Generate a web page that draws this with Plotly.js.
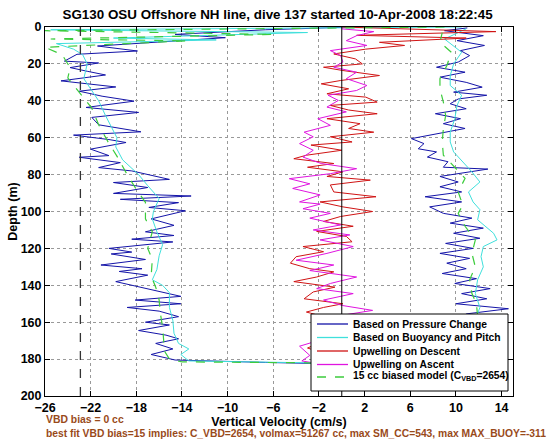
<!DOCTYPE html>
<html>
<head>
<meta charset="utf-8">
<script src="https://cdn.plot.ly/plotly-3.0.1.min.js"></script>
<style>html,body{margin:0;padding:0;background:#fff;}#chart{width:560px;height:442px;}</style>
</head>
<body>
<div id="chart"></div>
<script>
// ---- Data (depth in m, velocity in cm/s) ----
// Based on Pressure Change (descent then ascent)
const pcDepth = [0,1.5,4,5.8,10.3,13,14.8,18.5,19.5,22,24,26,29.2,32.5,34.8,37.5,40.2,43.6,46.3,49,53,56.8,58.6,61,62.6,66.2,69.7,70.6,73.5,76.2,78,82.6,84.3,87,90.2,91.6,93.4,95.2,97.8,99.6,104,107.5,111,113,115,116.5,120,122,123,126,129,131,132.5,134.5,138,140,142.5,146,148,150,152,154,157,160,161.5,164.5,167,169,171.5,174.5,177.5,179,180.5,181.8,182.3,
  182.5,181.5,178,174,170,166,162,158,155.5,152.7,150,147.3,144.5,141.8,139,136.4,133.6,131,128,125.4,122.7,120,117.3,114.5,111.8,109,106.3,103.6,101,97.5,94.8,92,89.4,86.6,84,81,77,76,73,70.5,67.7,66,63.2,60.5,57.8,55,52.4,49.7,47,44.3,41.6,39,37,35.3,32.6,30,27.2,24.5,21.8,19,15.5,12.8,10,7.4,4.7,2,0.5];
const pcVel = [1,-6.7,-14.6,-10.2,-21.4,-17.9,-23.2,-24.3,-21.3,-23.8,-22.3,-20.7,-24.6,-19.8,-23,-21,-18.2,-22.4,-17.8,-21.9,-21.3,-17.6,-23.5,-20.4,-18.9,-22,-20.4,-23,-19.4,-21.3,-18.4,-15.1,-20,-17,-20,-13.2,-19.4,-14.3,-16.9,-13.7,-16.7,-14.7,-17.2,-14.7,-18.4,-14.8,-20.4,-18.4,-20.2,-17.2,-21.1,-17.5,-19.5,-17,-19.8,-18.4,-16.6,-14.1,-18.1,-14.1,-18.8,-16,-14.3,-17.2,-15.1,-17.8,-15.4,-14.3,-16.3,-14.8,-16.7,-15.7,-14.6,-6.7,-2.5,
  -1.5,11,12.5,10.5,12,10.8,12.5,11,10.9,14.6,10,12.7,10.5,13,9.9,11.8,8.8,10.9,9.2,11.2,8.6,11.5,9.1,12.1,9.8,12.4,9.5,11.4,8.9,7.7,10.5,7.3,10.5,8.6,10.2,8.6,12.8,8.9,9.3,7.5,8.3,6.7,7.2,6.1,8.3,10.8,8.9,10.4,8.2,10.9,9.5,10.2,12.7,9.8,12.3,10.9,8.6,10.8,8.3,10.2,11.2,10.4,12.5,10.1,12.4,9,11];

// Based on Buoyancy and Pitch
const bpDepth = [0,1.5,3,6,7,9,12,15,20,28,40,48,60,65,72,80,86,93,100,104,111,118,124,131.5,137,140,144,152,159,166,171.5,174.5,177.5,181,182,
  182.5,181.5,175,168,162,157,152,144.5,137,130,124.5,119,115.4,111.8,104.5,99,94.8,89.4,84,78.5,73,67.7,62.3,57,49.7,42.5,37,31.7,26.3,20,13.7,6.5,1];
const bpVel = [10.5,-25.5,-3,-20,-11,-25,-23.5,-22.7,-22.3,-22.6,-21.3,-20.7,-19.7,-19.8,-19.2,-17.8,-17,-16,-16.5,-16.6,-16.2,-15.7,-16,-16.2,-16.6,-15.7,-15.1,-15.1,-14.8,-14.7,-14.3,-13.4,-14.1,-13.4,-3,
  -1.5,12,12.3,11.9,12.2,11.8,12.1,11.7,11.9,12.4,12.2,12.4,13.6,13.3,11.9,12.1,11.5,11.1,12.1,11.4,10.6,9.8,9.5,9.5,9.9,10.1,10.5,9.5,9.5,9.8,10.5,9,10.9];

// Upwelling on Descent
const udDepth = [0,2.5,4.5,6,8.3,10,12,13.8,14.6,17.3,20,21.8,23.6,26.3,29,30.8,33.5,36.2,38,40.7,42.5,45,47,49.7,52.4,55,57,59.5,62.3,64,66.8,69.5,71.4,74,76,78.5,81,83,85.6,89.4,92,94.8,97.5,100,102.7,105.4,108,110.8,113.5,116.4,119,121.8,124.5,128,131,132.7,135.5,138,141,143.6,147.3,150,152,154.5,158,162,166,170,174,178,181];
const udVel = [0,13.5,1.3,10.9,3.3,5.5,2.1,0.4,-0.7,1.2,1.8,-1.6,0.1,3.3,-0.1,-1.8,0.6,-1.3,2.1,3.1,-1,0.6,3.1,-1.3,1.6,0.6,2.8,-1,0.9,-2.7,0,-3.1,-4.2,-0.7,-3,0.1,-1.3,2.5,-1,-0.7,3,-1.9,0.1,2.7,-0.1,-1.6,1,-2.2,0.4,0.9,-3.4,-1.6,-4,-4.5,-2.8,-0.7,-2.2,-4.2,-0.6,-2.5,-3.3,0.1,-1.6,-3.1,-1,-2.5,0.5,-1.5,-3,-1,-2];

// Upwelling on Ascent
const uaDepth = [182.5,181,178,173,168,163,159,156.4,153.6,151,148,144.5,141.8,139,135.5,132,129,126.4,122.7,119,115.4,112.7,110,107.3,103.6,101,98.5,96,94.8,91,87.5,85,82.2,79.5,76.8,74,70.5,66.8,63.2,59.5,57,53.3,49.7,46,43.4,39.8,37,34.4,31.7,28,24.5,21.8,19,15.5,12.8,10,7.4,4.7,2.5,1];
const uaVel = [-2,-3.5,-2.8,-3.7,-1,-2,0.5,-0.1,2.7,0.1,-1.6,1,-2.2,-1,1.3,-2.8,-0.7,-4,-1.3,1,-1.9,0.7,-2.5,-0.1,-2.8,-1,-3.4,-1.9,-3.7,-1.9,-4.3,-2.8,-4.6,-1,1.3,-1.8,-3.4,-2.5,-3.7,-2.5,-3.3,-1,-2.1,0.4,-1.3,-0.3,-1.2,1.3,2.2,0.4,1.3,-0.7,0.1,-0.1,-1,2.2,0.4,1.3,2.8,0];

// 15 cc biased model
const mdDepth = [0,2,4,6.5,7.5,11,15,22,27.6,34,44,53,62,70,80,88,95,104,111,120,126,135,141,148,155,162.5,170,175,180,181.5,182,
  182.5,182,170,157,150,144.5,137,130,122.7,115.4,108,101,96.6,89.4,82,75,69.5,62.3,55,48,40.7,33.5,28,21,13.7,8.3,3];
const mdVel = [9,-26,-6,-25.5,-13.5,-26,-24.5,-23.8,-24,-23.2,-21.9,-21.3,-20.5,-19.7,-18.8,-18,-17.2,-17.2,-16.6,-17,-16.6,-16.7,-16.3,-16,-15.9,-15.7,-15.6,-15.6,-15.1,-14,-3,
  -1.5,11.5,11.8,11.9,11.8,11.4,11.2,11.7,11.4,11.7,10.8,10.2,10.6,10.2,10.8,9.7,8.9,8.8,8.9,9.1,8.9,8.6,8.6,9.2,9.6,8.6,8.8];

// Reference lines and axis ticks
const zeroVel = 0;
const biasVel = -22.9;
const xTicks = [-26,-22,-18,-14,-10,-6,-2,2,6,10,14];
const yTicks = [0,20,40,60,80,100,120,140,160,180,200];

const seriesNames = ['Based on Pressure Change','Based on Buoyancy and Pitch','Upwelling on Descent','Upwelling on Ascent','15 cc biased model (C<sub>VBD</sub>=2654)'];
const seriesColors = ['#1414a8','#3fe0dc','#d01414','#e014e0','#3ccc3c'];
const seriesDash = ['solid','solid','solid','solid','dash'];
const seriesX = [pcVel, bpVel, udVel, uaVel, mdVel];
const seriesY = [pcDepth, bpDepth, udDepth, uaDepth, mdDepth];

const traces = seriesNames.map((n, i) => ({
  x: seriesX[i], y: seriesY[i], name: n, mode: 'lines', showlegend: false,
  line: {color: seriesColors[i], width: i === 4 ? 1.2 : 1, dash: seriesDash[i]}
}));

// ---- Geometry (pixels) ----
const W = 560, H = 442;
const M = {l:45, r:47, t:27, b:46};
const PW = W - M.l - M.r, PH = H - M.t - M.b;
const px2x = p => (p - M.l) / PW;           // pixel -> paper x
const py2y = p => (H - M.b - p) / PH;       // pixel -> paper y

const FONT = 'Liberation Sans, Arial, Helvetica, sans-serif';
const axisFont = {family:FONT, size:12.5, color:'#000', weight:'bold'};
const brown = '#994a1a';

// Legend box drawn as a framed panel inside the axes (like the original)
const lgBox = {x0:311, x1:508, y0:314, y1:391};
const lgRows = [324, 337.5, 351, 364.5, 377];
const lgLine = {x0:317, x1:348};
const lgTextX = 352;

const shapes = [
  {type:'line', xref:'x', yref:'paper', x0:zeroVel, x1:zeroVel, y0:0, y1:1, line:{color:'#000', width:1}, layer:'above'},
  {type:'line', xref:'x', yref:'paper', x0:biasVel, x1:biasVel, y0:0, y1:1, line:{color:'#333', width:1.3, dash:'dash'}, layer:'above'},
  {type:'rect', xref:'paper', yref:'paper', x0:px2x(lgBox.x0), x1:px2x(lgBox.x1), y0:py2y(lgBox.y1), y1:py2y(lgBox.y0),
   fillcolor:'#fff', line:{color:'#000', width:1}, layer:'above'}
];
const annotations = [];
seriesNames.forEach((n, i) => {
  const yy = py2y(lgRows[i]);
  shapes.push({type:'line', xref:'paper', yref:'paper', x0:px2x(lgLine.x0), x1:px2x(lgLine.x1), y0:yy, y1:yy,
               line:{color:seriesColors[i], width:i === 4 ? 1.5 : 1.3, dash:seriesDash[i]}, layer:'above'});
  annotations.push({text:n, xref:'paper', yref:'paper', x:px2x(lgTextX), y:py2y(lgRows[i] - (i === 4 ? 1 : 0)),
                    xanchor:'left', yanchor:'middle', showarrow:false, borderpad:0,
                    font:{family:FONT, size:10.3, weight:'bold', color:'#000'}});
});
annotations.push(
  {text:'VBD bias = 0 cc', xref:'paper', yref:'paper', x:0, y:py2y(420), xanchor:'left', yanchor:'middle', showarrow:false, borderpad:0,
   font:{family:FONT, size:10.4, weight:'bold', color:brown}},
  {text:'best fit VBD bias=15 implies: C_VBD=2654, volmax=51267 cc, max SM_CC=543, max MAX_BUOY=-311', xref:'paper', yref:'paper',
   x:0, y:py2y(433), xanchor:'left', yanchor:'middle', showarrow:false, borderpad:0,
   font:{family:FONT, size:10.3, weight:'bold', color:brown}}
);

const layout = {
  width:W, height:H, margin:M,
  paper_bgcolor:'#fff', plot_bgcolor:'#fff',
  font:{family:FONT, size:12, color:'#000'},
  showlegend:false,
  title:{text:'SG130 OSU Offshore NH line, dive 137 started 10-Apr-2008 18:22:45',
         font:{family:FONT, size:13.4, weight:'bold', color:'#000'},
         x:0.497, xanchor:'center', y:0.968, yanchor:'middle', xref:'paper', yref:'container'},
  xaxis:{range:[-26,15], tickvals:xTicks, ticks:'inside', ticklen:5, tickcolor:'#000',
         showline:true, linecolor:'#000', linewidth:1, mirror:'ticks',
         showgrid:true, gridcolor:'#999', griddash:'dot', gridwidth:1, zeroline:false,
         tickfont:axisFont,
         title:{text:'Vertical Velocity (cm/s)', font:axisFont, standoff:1}},
  yaxis:{range:[200,0], tickvals:yTicks, ticks:'inside', ticklen:5, tickcolor:'#000',
         showline:true, linecolor:'#000', linewidth:1, mirror:'ticks',
         showgrid:true, gridcolor:'#999', griddash:'dot', gridwidth:1, zeroline:false,
         tickfont:axisFont,
         title:{text:'Depth (m)', font:axisFont, standoff:0}},
  shapes:shapes,
  annotations:annotations
};

Plotly.newPlot('chart', traces, layout, {displayModeBar:false, staticPlot:true});
</script>
</body>
</html>
